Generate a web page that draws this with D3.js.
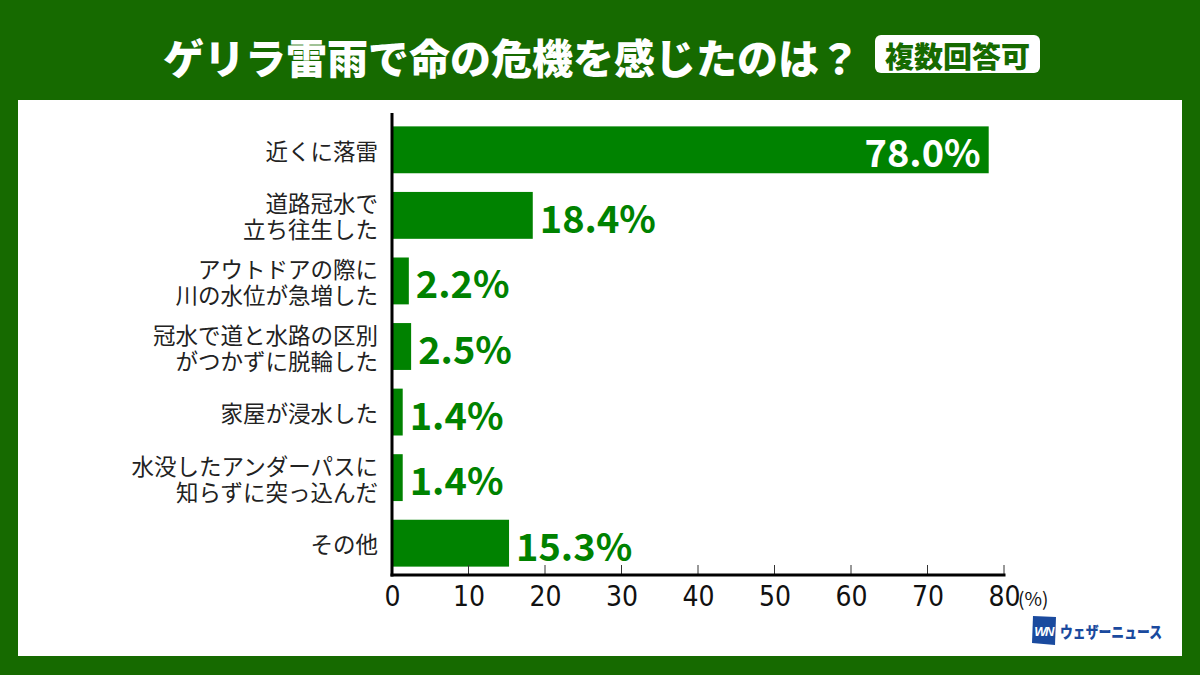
<!DOCTYPE html>
<html><head><meta charset="utf-8">
<script src="https://cdn.jsdelivr.net/npm/d3@7"></script>
<style>html,body{margin:0;padding:0;background:#166a00;}svg{display:block;}</style>
</head><body>
<svg id="c" width="1200" height="675"></svg>
<script>
const categories = [
  ["近くに落雷"],
  ["道路冠水で", "立ち往生した"],
  ["アウトドアの際に", "川の水位が急増した"],
  ["冠水で道と水路の区別", "がつかずに脱輪した"],
  ["家屋が浸水した"],
  ["水没したアンダーパスに", "知らずに突っ込んだ"],
  ["その他"]
];
const values = [78.0, 18.4, 2.2, 2.5, 1.4, 1.4, 15.3];
const xTicks = [0, 10, 20, 30, 40, 50, 60, 70, 80];
const titleText = "ゲリラ雷雨で命の危機を感じたのは？";
const badgeText = "複数回答可";

const GREEN_BG = "#166a00", BAR = "#008200";
const JP = "'Noto Sans CJK JP', 'Noto Sans', sans-serif";
const svg = d3.select("#c");

svg.append("rect").attr("width",1200).attr("height",675).attr("fill",GREEN_BG);
svg.append("rect").attr("x",18).attr("y",100).attr("width",1164).attr("height",556).attr("fill","#fff");

// title
svg.append("text").attr("x",163).attr("y",56).attr("dominant-baseline","central")
  .attr("font-family",JP).attr("font-weight",900).attr("font-size",41).attr("fill","#fff")
  .text(titleText);
svg.append("rect").attr("x",875).attr("y",35).attr("width",165).attr("height",38).attr("rx",6).attr("fill","#fff");
svg.append("text").attr("x",957.5).attr("y",55).attr("dominant-baseline","central").attr("text-anchor","middle")
  .attr("font-family",JP).attr("font-weight",900).attr("font-size",29).attr("fill",GREEN_BG)
  .text(badgeText);

const x = d3.scaleLinear().domain([0,80]).range([392,1004]);
const y = d3.scaleBand().domain(d3.range(categories.length)).range([117,576]).paddingInner(0.285).paddingOuter(0.143);

// bars
svg.append("g").selectAll("rect").data(values).join("rect")
  .attr("x", x(0)+1).attr("y",(d,i)=>y(i)).attr("width",d=>x(d)-x(0)-1).attr("height",y.bandwidth())
  .attr("fill",BAR);

// value labels
svg.append("g").selectAll("text").data(values).join("text")
  .attr("x",d=> d>50 ? x(d)-8 : x(d)+7)
  .attr("y",(d,i)=>y(i)+y.bandwidth()/2+1)
  .attr("text-anchor",d=> d>50 ? "end":"start")
  .attr("dominant-baseline","central")
  .attr("font-family",JP).attr("font-weight",700).attr("font-size",38)
  .attr("fill",d=> d>50 ? "#fff" : BAR)
  .text(d=>d.toFixed(1)+"%");

// category labels (one text element per category, lines as tspans)
const cg = svg.append("g");
categories.forEach((lines,i)=>{
  const cy = y(i)+y.bandwidth()/2;
  const n = lines.length;
  const t = cg.append("text").attr("text-anchor","end")
    .attr("font-family",JP).attr("font-size",22.5).attr("fill","#222");
  lines.forEach((s,j)=>{
    t.append("tspan").attr("x",378).attr("y",cy+(j-(n-1)/2)*26)
      .attr("dominant-baseline","central").text(s);
  });
});

// axes
const axis = d3.axisBottom(x).tickValues(xTicks).tickSize(0).tickFormat(d3.format("d"));
const ag = svg.append("g").attr("transform","translate(0,575)").call(axis);
ag.select(".domain").remove();
ag.selectAll(".tick text").attr("dy",null).attr("y",21).attr("dominant-baseline","central")
  .attr("font-family","'Liberation Sans Narrow','DejaVu Sans Condensed','Liberation Sans',sans-serif")
  .attr("font-size",28).attr("fill","#111");
svg.append("g").selectAll("line").data(xTicks.slice(1)).join("line")
  .attr("x1",d=>x(d)).attr("x2",d=>x(d)).attr("y1",565).attr("y2",575)
  .attr("stroke","#333").attr("stroke-width",1);
svg.append("line").attr("x1",392).attr("x2",392).attr("y1",113).attr("y2",576.5).attr("stroke","#000").attr("stroke-width",3);
svg.append("line").attr("x1",390.5).attr("x2",x(80)+1.5).attr("y1",575).attr("y2",575).attr("stroke","#000").attr("stroke-width",3);
svg.append("text").attr("x",1018).attr("y",597).attr("dominant-baseline","central")
  .attr("font-family",JP).attr("font-size",19).attr("fill","#111").text("(%)");

// logo
const lg = svg.append("g");
lg.append("path").attr("d","M1033,616 L1056,617 L1055,645 L1032,643 Z").attr("fill","#1a4a9e");
lg.append("text").attr("x",1043.5).attr("y",631).attr("text-anchor","middle").attr("dominant-baseline","central")
  .attr("font-family","'Liberation Sans',sans-serif").attr("font-weight",700).attr("font-style","italic")
  .attr("font-size",13).attr("fill","#fff").attr("letter-spacing",-1.5).text("WN");
lg.append("text").attr("x",1060).attr("y",631).attr("dominant-baseline","central")
  .attr("font-family",JP).attr("font-weight",900).attr("font-size",16).attr("fill","#1a4a9e")
  .attr("textLength",102).attr("lengthAdjust","spacingAndGlyphs").text("ウェザーニュース");
</script>
</body></html>
